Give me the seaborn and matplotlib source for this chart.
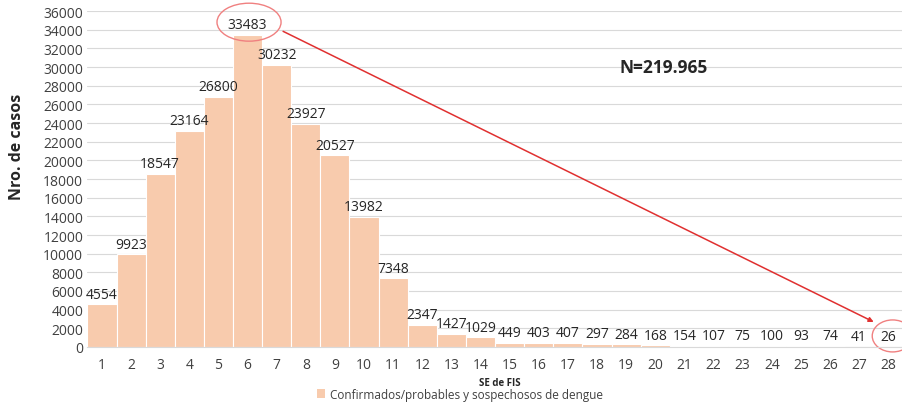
import numpy as np
import pandas as pd
import matplotlib
matplotlib.use("Agg")
import matplotlib.pyplot as plt
import seaborn as sns
from matplotlib.patches import Ellipse, Patch

# data
weeks = [str(i) for i in range(1, 29)]
cases = [4554, 9923, 18547, 23164, 26800, 33483, 30232, 23927, 20527, 13982,
         7348, 2347, 1427, 1029, 449, 403, 407, 297, 284, 168,
         154, 107, 75, 100, 93, 74, 41, 26]
series_name = "Confirmados/probables y sospechosos de dengue"

df = pd.DataFrame({"SE": weeks, "casos": cases})

sns.set_style("white")
plt.rcParams['font.family'] = ['Open Sans', 'DejaVu Sans']

bar_color = "#F8CBAD"
text_color = "#404040"

fig = plt.figure(figsize=(9.02, 4.06), dpi=100)
ax = fig.add_axes([0.0969, 0.143, 0.904, 0.827])

sns.barplot(data=df, x="SE", y="casos", order=weeks, color=bar_color,
            width=1.0, edgecolor="white", linewidth=0.8, saturation=1, ax=ax)

ax.set_ylim(0, 36000)
ax.set_xlim(-0.5, 27.5)
ax.set_yticks(np.arange(0, 36001, 2000))
ax.yaxis.grid(True, color="#D9D9D9", linewidth=0.8)
ax.set_axisbelow(True)
for s in ["top", "right", "left"]:
    ax.spines[s].set_visible(False)
ax.spines["bottom"].set_color("#D9D9D9")
ax.tick_params(axis="both", length=0, labelsize=10, colors=text_color)
ax.tick_params(axis="x", pad=7)
ax.tick_params(axis="y", pad=3)

ax.bar_label(ax.containers[0], labels=[str(v) for v in cases], padding=2,
             fontsize=10, color="#262626")

ax.set_xlabel("SE de FIS", fontsize=7, fontweight="bold", color="#262626")
ax.xaxis.set_label_coords(0.506, -0.09)
ax.set_ylabel("Nro. de casos", fontsize=11.5, fontweight="bold", color="#262626")
ax.yaxis.set_label_coords(-0.077, 0.60)

# annotations
ax.add_patch(Ellipse((5.05, 34820), 2.2, 4070, fill=False, edgecolor="#F08080",
                     linewidth=1, clip_on=False))
ax.add_patch(Ellipse((27.15, 1180), 1.4, 3430, fill=False, edgecolor="#F08080",
                     linewidth=1, clip_on=False))
ax.annotate("", xy=(26.5, 2680), xytext=(6.22, 33840),
            arrowprops=dict(arrowstyle="-|>", color="#E03030", lw=1.1, mutation_scale=7,
                            shrinkA=0, shrinkB=0))
ax.text(19.3, 30000, "N=219.965", fontsize=12.5, fontweight="bold", color="#262626",
        ha="center", va="center")

fig.legend(handles=[Patch(facecolor=bar_color, edgecolor="none")], labels=[series_name],
           loc="center", bbox_to_anchor=(0.51, 0.027), frameon=False, fontsize=8.5,
           handlelength=0.7, handleheight=0.7, handletextpad=0.4, labelcolor=text_color)

fig.savefig("out.png", dpi=100)
